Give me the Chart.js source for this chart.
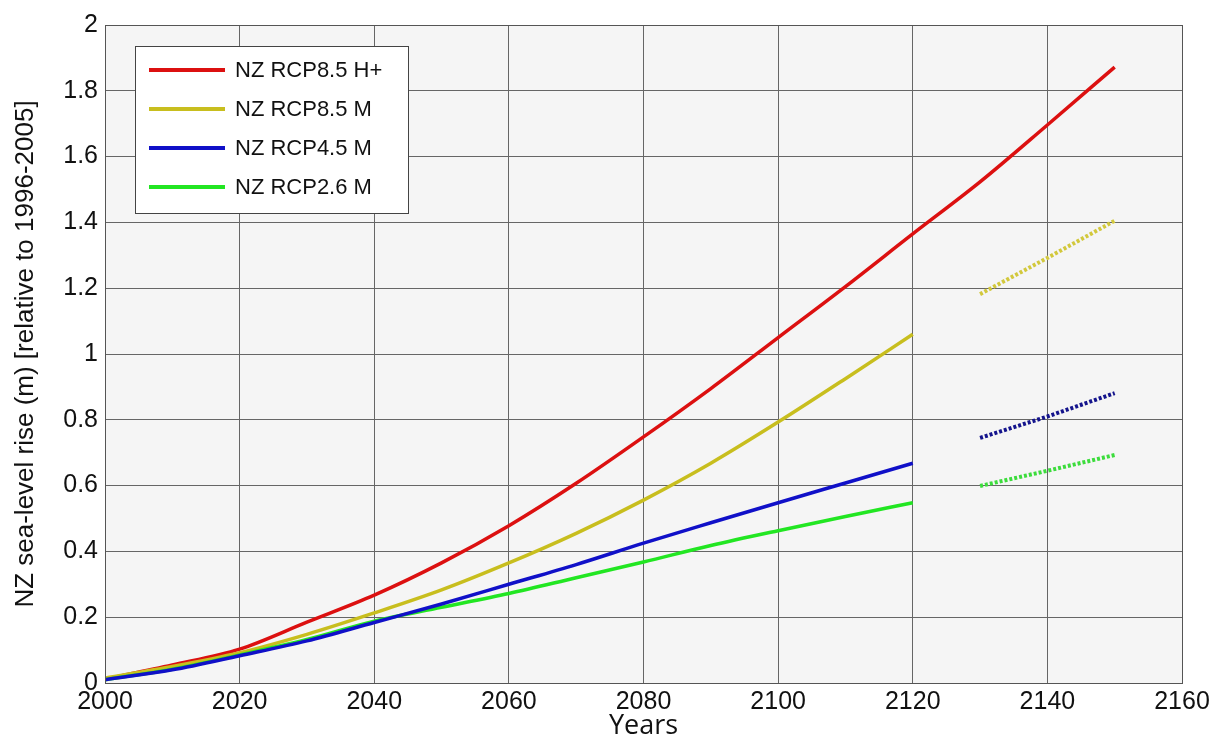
<!DOCTYPE html>
<html>
<head>
<meta charset="utf-8">
<script src="https://cdn.jsdelivr.net/npm/chart.js@4"></script>
<style>
  html, body { margin: 0; padding: 0; background: #fff; }
  #wrap { width: 1220px; height: 739px; }
</style>
</head>
<body>
<div id="wrap"><canvas id="slrChart" width="1220" height="739"></canvas></div>
<script>
// years of the model runs
var years = [2000, 2010, 2020, 2030, 2040, 2050, 2060, 2070, 2080, 2090, 2100, 2110, 2120, 2130, 2140, 2150];
var yearsTail = [2130, 2140, 2150];

// sea-level rise in metres (relative to 1996-2005)
var rcp85H = [0.012, 0.055, 0.103, 0.185, 0.267, 0.365, 0.478, 0.607, 0.748, 0.895, 1.05, 1.205, 1.365, 1.523, 1.696, 1.872];
var rcp85M = [0.015, 0.05, 0.092, 0.148, 0.213, 0.283, 0.365, 0.455, 0.556, 0.668, 0.793, 0.925, 1.06];
var rcp45M = [0.01, 0.04, 0.083, 0.128, 0.184, 0.24, 0.3, 0.36, 0.425, 0.487, 0.548, 0.608, 0.668];
var rcp26M = [0.01, 0.042, 0.085, 0.132, 0.188, 0.23, 0.272, 0.32, 0.368, 0.418, 0.463, 0.506, 0.548];
var rcp85MTail = [1.182, 1.292, 1.405];
var rcp45MTail = [0.745, 0.81, 0.881];
var rcp26MTail = [0.599, 0.645, 0.693];

var seriesNames = ['NZ RCP8.5 H+', 'NZ RCP8.5 M', 'NZ RCP4.5 M', 'NZ RCP2.6 M'];
var seriesColors = ['#dc1010', '#c8be1e', '#1010c8', '#22e622'];

var xTicks = [2000, 2020, 2040, 2060, 2080, 2100, 2120, 2140, 2160];
var yTicks = [0, 0.2, 0.4, 0.6, 0.8, 1, 1.2, 1.4, 1.6, 1.8, 2];

function pts(xs, ys) {
  return ys.map(function(v, i) { return { x: xs[i], y: v }; });
}

function solid(i, data, order) {
  return {
    label: seriesNames[i],
    data: pts(years, data),
    borderColor: seriesColors[i],
    borderWidth: 3.5,
    pointRadius: 0,
    cubicInterpolationMode: 'monotone',
    order: order
  };
}

function dotted(color, data) {
  return {
    label: '_tail',
    data: pts(yearsTail, data),
    borderColor: color,
    borderWidth: 4,
    borderDash: [3, 2],
    borderCapStyle: 'butt',
    pointRadius: 0,
    order: 5
  };
}

// plot background + legend box inside the axes
var plotExtras = {
  id: 'plotExtras',
  beforeDraw: function(chart) {
    var a = chart.chartArea, c = chart.ctx;
    c.save();
    c.fillStyle = '#f5f5f5';
    c.fillRect(a.left, a.top, a.right - a.left, a.bottom - a.top);
    c.restore();
  },
  afterDraw: function(chart) {
    var c = chart.ctx, a = chart.chartArea;
    c.save();
    c.strokeStyle = '#555';
    c.lineWidth = 1;
    c.strokeRect(a.left + 0.5, a.top + 0.5, a.right - a.left, a.bottom - a.top);
    // legend
    var bx = 135, by = 46, bw = 273, bh = 167;
    c.fillStyle = '#ffffff';
    c.fillRect(bx, by, bw, bh);
    c.strokeStyle = '#444';
    c.strokeRect(bx + 0.5, by + 0.5, bw, bh);
    c.font = '22px "Liberation Sans", Arial, sans-serif';
    c.textBaseline = 'middle';
    c.fillStyle = '#111';
    for (var i = 0; i < seriesNames.length; i++) {
      var ly = 70 + i * 39;
      c.strokeStyle = seriesColors[i];
      c.lineWidth = 4;
      c.beginPath();
      c.moveTo(149, ly);
      c.lineTo(225, ly);
      c.stroke();
      c.fillText(seriesNames[i], 235, ly + 1);
    }
    c.restore();
  }
};

var ctx = document.getElementById('slrChart').getContext('2d');
var slrChart = new Chart(ctx, {
  type: 'line',
  data: {
    datasets: [
      solid(0, rcp85H, 4),
      solid(1, rcp85M, 3),
      solid(2, rcp45M, 1),
      solid(3, rcp26M, 2),
      dotted('#d2c83c', rcp85MTail),
      dotted('#14148c', rcp45MTail),
      dotted('#3cdc3c', rcp26MTail)
    ]
  },
  options: {
    responsive: false,
    animation: false,
    layout: { padding: { top: 25, right: 38, left: 0, bottom: 0 } },
    plugins: {
      legend: { display: false },
      tooltip: { enabled: false }
    },
    scales: {
      x: {
        type: 'linear',
        min: 2000,
        max: 2160,
        afterBuildTicks: function(scale) {
          scale.ticks = xTicks.map(function(v) { return { value: v }; });
        },
        afterFit: function(scale) { scale.height = 56; },
        grid: { color: '#666', lineWidth: 1, drawTicks: false },
        border: { display: false },
        ticks: {
          color: '#111',
          padding: 4,
          maxRotation: 0,
          font: { family: '"Liberation Sans", Arial, sans-serif', size: 25 },
          callback: function(v) { return String(v); }
        },
        title: {
          display: true,
          text: 'Years',
          color: '#111',
          padding: { top: 0, bottom: -4 },
          font: { family: '"Open Sans", sans-serif', size: 27 }
        }
      },
      y: {
        min: 0,
        max: 2,
        afterBuildTicks: function(scale) {
          scale.ticks = yTicks.map(function(v) { return { value: v }; });
        },
        afterFit: function(scale) { scale.width = 105; },
        grid: { color: '#666', lineWidth: 1, drawTicks: false },
        border: { display: false },
        ticks: {
          color: '#111',
          padding: 7,
          font: { family: '"Liberation Sans", Arial, sans-serif', size: 25 },
          callback: function(v) { return String(Math.round(v * 10) / 10); }
        },
        title: {
          display: true,
          text: 'NZ sea-level rise (m) [relative to 1996-2005]',
          color: '#111',
          padding: { top: 10, bottom: 0 },
          font: { family: '"Liberation Sans", Arial, sans-serif', size: 26 }
        }
      }
    }
  },
  plugins: [plotExtras]
});
</script>
</body>
</html>
